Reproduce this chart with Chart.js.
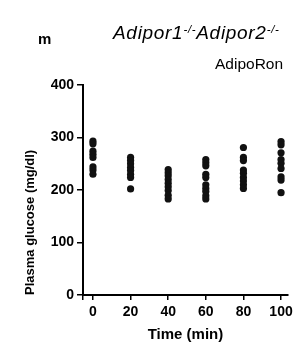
<!DOCTYPE html>
<html>
<head>
<meta charset="utf-8">
<script src="https://cdn.jsdelivr.net/npm/chart.js@4/dist/chart.umd.min.js"></script>
<style>
  html, body { margin: 0; padding: 0; background: #fff; }
  #wrap { position: relative; width: 303px; height: 346px; font-family: "Liberation Sans", Arial, sans-serif; color: #000; }
  #wrap canvas { position: absolute; left: 0; top: 0; }
  .lbl { position: absolute; line-height: 1; white-space: nowrap; }
  .lbl sup { font-size: 0.6em; vertical-align: 0.55em; line-height: 0; }
</style>
</head>
<body>
<div id="wrap">
  <canvas id="chart" width="303" height="346"></canvas>
  <div class="lbl" style="left:38px;top:31px;font-size:15px;font-weight:bold;">m</div>
  <div class="lbl" style="left:113px;top:23px;font-size:19px;font-style:italic;letter-spacing:0.7px;">Adipor1<sup>-/-</sup>Adipor2<sup>-/-</sup></div>
  <div class="lbl" style="left:215px;top:56px;font-size:15.5px;">AdipoRon</div>
</div>
<script>
'use strict';

// values (mg/dl), one list per time point
var timePoints = [0, 20, 40, 60, 80, 100];
var glucoseT0 = [293, 288, 274, 268, 262, 244, 238, 230];
var glucoseT20 = [262, 256, 250, 243, 237, 230, 224, 202];
var glucoseT40 = [239, 233, 227, 220, 213, 206, 199, 190, 183];
var glucoseT60 = [258, 252, 246, 230, 224, 210, 203, 197, 189, 183];
var glucoseT80 = [281, 262, 256, 238, 232, 224, 217, 210, 203];
var glucoseT100 = [292, 286, 271, 258, 251, 241, 225, 219, 195];
var yTicks = [0, 100, 200, 300, 400];
var xTicks = [0, 20, 40, 60, 80, 100];

var groups = [glucoseT0, glucoseT20, glucoseT40, glucoseT60, glucoseT80, glucoseT100];
var points = [];
for (var i = 0; i < groups.length; i++) {
  for (var j = 0; j < groups[i].length; j++) {
    points.push({ x: timePoints[i], y: groups[i][j] });
  }
}

var X_MIN = -5.3, X_MAX = 103.7;
var tickFont = { family: 'Liberation Sans, Arial, sans-serif', size: 14, weight: 'bold' };

new Chart(document.getElementById('chart'), {
  type: 'scatter',
  data: {
    datasets: [{
      data: points,
      pointRadius: 3.6,
      pointHoverRadius: 3.6,
      pointBackgroundColor: '#111',
      pointBorderWidth: 0
    }]
  },
  options: {
    responsive: false,
    animation: false,
    events: [],
    layout: { padding: { left: 0, right: 15, top: 85, bottom: 0 } },
    plugins: { legend: { display: false }, tooltip: { enabled: false } },
    scales: {
      x: {
        type: 'linear',
        min: X_MIN,
        max: X_MAX,
        afterBuildTicks: function (scale) {
          scale.ticks = [{ value: X_MIN }].concat(xTicks.map(function (v) { return { value: v }; }));
        },
        afterFit: function (scale) { scale.height = 51; },
        ticks: {
          color: '#000',
          font: tickFont,
          padding: 4,
          maxRotation: 0,
          autoSkip: false,
          callback: function (v) { return v < 0 ? '' : v; }
        },
        grid: { drawOnChartArea: false, drawTicks: true, tickLength: 5, color: '#000', lineWidth: 1.5 },
        border: { color: '#000', width: 2 },
        title: {
          display: true,
          text: 'Time (min)',
          color: '#000',
          font: { family: 'Liberation Sans, Arial, sans-serif', size: 15, weight: 'bold' },
          padding: { top: 0, bottom: 2 }
        }
      },
      y: {
        min: 0,
        max: 400,
        afterBuildTicks: function (scale) {
          scale.ticks = yTicks.map(function (v) { return { value: v }; });
        },
        afterFit: function (scale) { scale.width = 83; },
        ticks: { color: '#000', font: tickFont, padding: 3 },
        grid: { drawOnChartArea: false, drawTicks: true, tickLength: 6, color: '#000', lineWidth: 1.5 },
        border: { color: '#000', width: 2 },
        title: {
          display: true,
          text: 'Plasma glucose (mg/dl)',
          align: 'start',
          color: '#000',
          font: { family: 'Liberation Sans, Arial, sans-serif', size: 13, weight: 'bold' },
          padding: { top: 23, bottom: 0 }
        }
      }
    }
  }
});
</script>
</body>
</html>
